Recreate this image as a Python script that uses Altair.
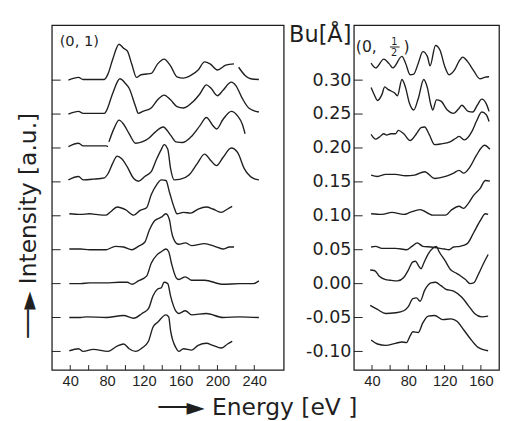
import altair as alt
import pandas as pd

# Bu offsets of the spectra (Å)
BU = [0.30, 0.25, 0.20, 0.15, 0.10, 0.05, 0.00, -0.05, -0.10]

# ---- (0,1) beam : energies (eV) and intensities (a.u.), None = gap in trace
L_E = [
    [38, 49, 54, 61, 77, 81, 86, 93, 98, 102, 107, 112, 117, 123, 128, 135, 142, 149, 156, 163, 171, 179, 186, 192, 200, 209, 218, None, 223, 230, 236, 245],
    [38, 49, 54, 61, 77, 79, 86, 94, 100, 104, 111, 114, 119, 128, 135, 142, 149, 156, 163, 174, 181, 188, 193, 200, 206, 215, 220, 227, 234, 245],
    [38, 49, 54, 61, 79, 81, None, 82, 88, 93, 98, 104, 111, 118, 125, 132, 141, 149, 155, 162, 171, 181, 188, 195, 199, 206, 215, 222, 227, 230],
    [38, 49, 54, 65, 77, 81, 86, 91, 96, 102, 109, 114, 121, 128, 134, 139, 142, 146, 149, 153, 160, 169, 178, 186, 193, 199, 206, 215, 222, 229, 238, 245],
    [39, 51, 61, 68, 79, 84, 91, 100, 109, 116, 123, 128, 134, 139, 144, 148, 153, 156, 163, 171, 179, 188, 195, 204, 211, 216],
    [39, 51, 61, 79, 89, 98, 107, 114, 121, 126, 132, 139, 144, 148, 150, 155, 158, 165, 172, 186, 197, 206, 213, 218],
    [39, 51, 61, 79, 93, 102, 107, 114, 123, 128, 134, 139, 144, 147, 150, 155, 158, 165, 172, 186, 206, 224, 239, 245],
    [39, 51, 58, 79, 98, 109, 118, 125, 130, 135, 139, 142, 146, 149, 155, 158, 165, 172, 188, 206, 224, 245],
    [39, 49, 54, 65, 81, 91, 98, 104, 111, 118, 125, 130, 135, 144, 147, 149, 155, 158, 163, 172, 179, 188, 195, 204, 211, 216],
]
L_I = [
    [0.0, 0.4, 0.1, 0.1, 0.1, 0.9, 3.0, 5.3, 4.7, 4.3, 2.3, 0.4, 0.8, 0.9, 1.0, 2.4, 3.1, 2.1, 0.5, 0.3, 0.7, 1.5, 2.7, 2.4, 1.5, 2.2, 2.4, None, 1.9, 0.7, 0.2, 0.1],
    [0.0, 0.4, 0.1, 0.1, 0.1, 0.4, 3.0, 5.2, 4.5, 3.8, 1.1, 0.1, 0.4, 0.9, 2.1, 2.8, 2.1, 1.1, 0.9, 1.9, 3.0, 4.3, 3.8, 2.7, 3.5, 4.7, 4.2, 2.3, 0.9, 0.3],
    [0.2, 0.7, 0.3, 0.3, 0.3, 0.2, None, 0.9, 3.0, 4.1, 3.5, 2.1, 0.7, 0.9, 1.4, 2.3, 3.1, 1.9, 0.9, 0.8, 1.6, 3.3, 4.5, 3.3, 2.8, 4.2, 5.4, 4.7, 3.5, 2.1],
    [0.3, 0.8, 0.3, 0.4, 0.6, 1.2, 2.7, 3.8, 3.4, 2.2, 0.5, 0.1, 0.8, 1.5, 3.4, 4.8, 5.5, 4.8, 2.0, 0.3, 0.4, 1.0, 2.7, 4.1, 3.1, 2.4, 3.6, 5.0, 4.3, 2.0, 0.6, 0.3],
    [0.3, 0.2, 0.3, 0.2, 0.1, 0.6, 1.3, 0.9, 0.1, 0.8, 1.2, 3.1, 4.6, 5.3, 5.2, 3.4, 1.2, 0.3, 0.5, 0.4, 1.0, 1.3, 1.0, 0.5, 1.0, 1.4],
    [0.1, 0.1, 0.0, 0.0, 0.5, 0.4, 0.0, 0.5, 1.1, 2.9, 4.3, 4.8, 5.3, 4.3, 2.7, 1.0, 0.8, 1.0, 0.6, 0.9, 0.5, 0.1, 0.4, 0.4],
    [0.0, 0.0, 0.1, 0.1, 0.2, 0.2, -0.1, 0.4, 1.1, 3.0, 4.2, 4.7, 5.1, 4.7, 3.0, 0.9, 0.6, 1.0, 0.5, 0.5, -0.1, 0.0, 0.0, 0.4],
    [0.0, 0.0, 0.1, 0.0, 0.3, -0.1, 0.6, 1.3, 3.2, 4.2, 4.4, 5.2, 5.0, 3.2, 0.9, 0.6, 1.0, 0.4, 0.6, 0.0, 0.1, 0.0],
    [0.1, 0.4, 0.0, 0.3, 0.0, 0.8, 1.1, 0.4, 0.0, 0.5, 1.5, 3.6, 4.3, 5.4, 5.1, 3.1, 0.5, 0.0, 0.4, 0.2, 0.9, 1.2, 0.9, 0.5, 1.1, 1.5],
]

# ---- (0,1/2) beam
R_E = [
    [39, 44, 53, 59, 63, 73, 77, 82, 86, 91, 96, 101, 104, 110, 115, 120, 125, 131, 136, 140, 145, 152, 159, 164, 169],
    [39, 43, 46, 51, 54, 58, 61, 65, 68, 73, 77, 81, 86, 91, 97, 101, 105, 107, 111, 116, 123, 130, 135, 139, 146, 151, 156, 161, 166, 169],
    [39, 44, 48, 53, 56, 61, 66, 69, 75, 82, 89, 94, 98, 103, 109, 116, 126, 132, 136, 142, 150, 155, 161, 166, 169],
    [39, 46, 55, 66, 77, 87, 98, 109, 121, 130, 136, 141, 148, 155, 164, 170],
    [39, 51, 62, 75, 82, 93, 107, 121, 128, 136, 141, 146, 152, 159, 165, 170],
    [39, 44, 51, 66, 78, 84, 90, 96, 105, 120, 125, 130, 137, 145, 152, 159, 165, 168],
    [38, 43, 48, 55, 60, 68, 75, 80, 85, 88, 91, 94, 97, 102, 107, 111, 114, 120, 127, 132, 137, 143, 148, 152, 157, 163, 168],
    [38, 46, 55, 66, 75, 80, 85, 89, 93, 98, 105, 110, 116, 121, 130, 139, 146, 153, 161, 168],
    [39, 46, 55, 66, 73, 78, 82, 85, 91, 96, 102, 109, 118, 127, 134, 141, 150, 157, 168],
]
R_I = [
    [2.5, 1.8, 3.1, 2.4, 1.8, 3.5, 2.5, 0.8, 0.9, 2.5, 4.2, 3.5, 2.1, 5.1, 4.4, 2.1, 0.8, 1.5, 2.8, 3.4, 2.8, 1.4, 0.2, 0.4, 0.5],
    [3.9, 2.7, 2.0, 2.9, 4.0, 3.6, 3.4, 3.1, 2.7, 5.1, 3.9, 1.7, 0.6, 2.3, 5.1, 3.9, 1.3, 0.6, 2.1, 1.9, 0.6, 0.1, 0.7, 1.3, 0.4, 0.3, 1.3, 2.2, 1.5, 0.4],
    [2.0, 1.3, 1.6, 2.1, 1.9, 2.1, 2.1, 2.6, 2.1, 1.1, 2.1, 3.0, 3.1, 2.0, 0.5, 0.6, 0.9, 1.4, 1.7, 1.2, 2.4, 3.9, 5.3, 4.9, 3.9],
    [1.0, 0.8, 1.1, 1.1, 0.9, 1.0, 1.5, 0.5, 0.8, 1.3, 1.7, 1.3, 2.2, 3.9, 5.4, 4.8],
    [0.3, 0.2, 0.5, 0.2, 0.5, 0.9, 0.1, 0.1, 0.9, 1.4, 1.1, 1.8, 3.0, 4.0, 5.2, 5.1],
    [0.4, 0.5, 0.2, 0.2, 0.0, 0.5, 1.0, 0.5, 0.4, 0.1, 0.0, 0.4, 0.5, 0.9, 2.5, 4.2, 5.3, 5.2],
    [2.0, 1.9, 1.1, 0.6, 0.5, 0.4, 0.9, 2.0, 3.2, 3.3, 2.7, 2.2, 3.0, 4.4, 5.2, 5.5, 4.7, 3.5, 2.0, 1.6, 1.2, 0.6, 0.0, 0.1, 1.3, 3.0, 4.3],
    [1.8, 1.2, 0.6, 0.7, 1.0, 1.6, 2.8, 2.9, 2.4, 4.0, 5.1, 5.2, 4.7, 4.2, 3.9, 3.0, 1.8, 0.6, 0.1, 0.2],
    [1.7, 1.1, 0.9, 1.2, 1.4, 1.3, 2.3, 2.9, 2.8, 4.2, 5.2, 5.3, 4.7, 4.8, 4.4, 3.2, 1.6, 0.6, 0.1],
]

XT_L = list(range(40, 241, 20))
XL_L = list(range(40, 241, 40))
XT_R = list(range(40, 161, 20))
XL_R = list(range(40, 161, 40))

SCALE = 0.01  # Bu units per a.u.
INK = "#1f1f1f"
FONT = "DejaVu Sans"
NUMFONT = "Liberation Sans Narrow, Liberation Sans, DejaVu Sans"


def build(E_lists, I_lists, tag):
    rows = []
    for k, (bu, es, ins) in enumerate(zip(BU, E_lists, I_lists)):
        seg = 0
        for e, i in zip(es, ins):
            if e is None:
                seg += 1
                continue
            rows.append({"key": f"{tag}{k}_{seg}", "E": e, "y": bu + SCALE * i})
    return pd.DataFrame(rows)


dfL = build(L_E, L_I, "L")
dfR = build(R_E, R_I, "R")

H = 354
yscale = alt.Scale(domain=[-0.1273, 0.3812], nice=False, zero=False)


def txt(s, x, y, size=15):
    return alt.Chart(pd.DataFrame({"t": [s]})).mark_text(
        align="left", baseline="alphabetic", fontSize=size, font=FONT, color=INK).encode(
        x=alt.value(x), y=alt.value(y), text="t:N")


def panel(df, xdom, width, xticks, xlabels, yaxis, extras):
    xs = alt.Scale(domain=xdom, nice=False, zero=False)
    lines = alt.Chart(df).mark_line(color=INK, strokeWidth=1.4, interpolate="monotone").encode(
        x=alt.X("E:Q", scale=xs, title=None,
                axis=alt.Axis(values=xlabels, ticks=False, domain=False, grid=False,
                              labelFont=NUMFONT, labelFontSize=15, labelColor=INK,
                              labelPadding=4, title=None)),
        y=alt.Y("y:Q", scale=yscale, axis=yaxis),
        detail="key:N",
    )
    xt = alt.Chart(pd.DataFrame({"t": xticks})).mark_rule(color=INK, strokeWidth=1).encode(
        x=alt.X("t:Q", scale=xs), y=alt.value(H), y2=alt.value(H - 5))
    yt = alt.Chart(pd.DataFrame({"b": BU})).mark_rule(color=INK, strokeWidth=1).encode(
        y=alt.Y("b:Q", scale=yscale), x=alt.value(0), x2=alt.value(9))
    return alt.layer(lines, xt, yt, *extras).properties(width=width, height=H)


yaxis_L = alt.Axis(labels=False, ticks=False, domain=False, grid=False,
                   title="──►  Intensity [a.u.]", titleFont=FONT, titleFontSize=24,
                   titleFontWeight="normal", titleColor=INK, titlePadding=12, titleY=205)
yaxis_R = alt.Axis(values=BU, ticks=False, domain=False, grid=False,
                   labelExpr="replace(format(datum.value, '.2f'), '\u2212', '-')",
                   labelFont=FONT, labelFontSize=18, labelColor=INK, labelPadding=3,
                   title="Bu[Å]", titleAngle=0, titleAlign="right", titleBaseline="alphabetic",
                   titleX=-3, titleY=17, titleFont=FONT, titleFontSize=23,
                   titleFontWeight="normal", titleColor=INK)

left_extras = [txt("(0, 1)", 8, 21)]
frac_bar = alt.Chart(pd.DataFrame({"v": [1]})).mark_rule(color=INK, strokeWidth=1).encode(
    x=alt.value(37), x2=alt.value(47), y=alt.value(22.5))
right_extras = [txt("(0,", 2, 28, 16), txt("1", 38.5, 20, 10), frac_bar,
                txt("2", 38, 32, 10), txt(")", 51, 28, 16)]

left = panel(dfL, [20, 272], 238, XT_L, XL_L, yaxis_L, left_extras)
right = panel(dfR, [20, 180], 149, XT_R, XL_R, yaxis_R, right_extras)

chart = alt.hconcat(left, right, spacing=72, bounds="flush").properties(
    title=alt.TitleParams(text="──►  Energy [eV ]", orient="bottom", anchor="middle",
                          font=FONT, fontSize=24, fontWeight="normal", color=INK, offset=8),
    padding={"left": 8, "top": 10, "right": 0, "bottom": 0},
).configure_view(stroke=INK, strokeWidth=1.3)

chart.save("out.html", embed_options={"renderer": "svg", "actions": False})
